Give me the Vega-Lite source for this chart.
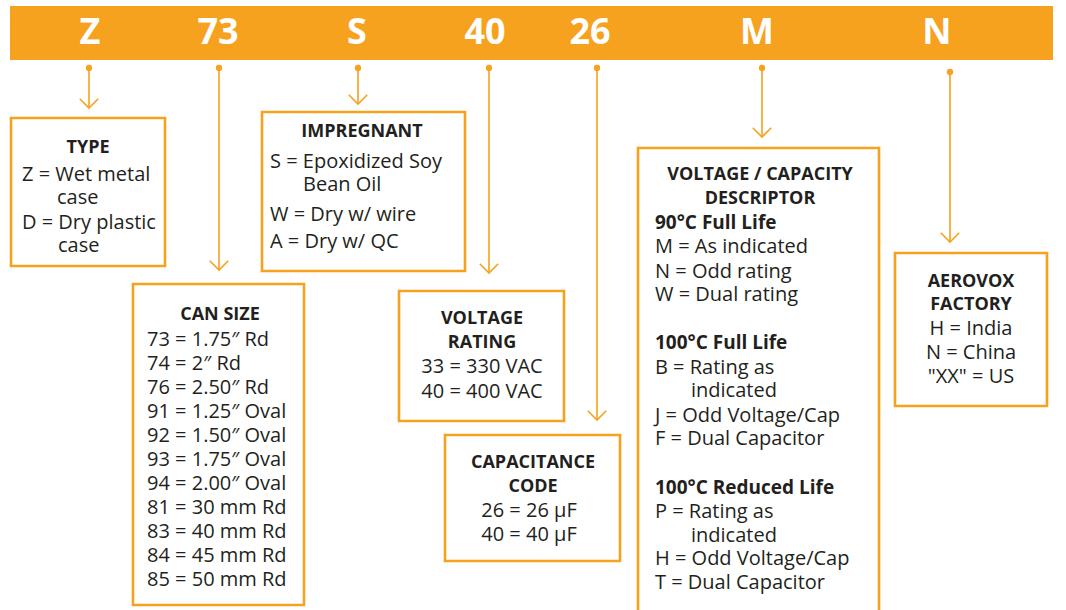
{
  "$schema": "https://vega.github.io/schema/vega-lite/v6.json",
  "width": 1066,
  "height": 610,
  "padding": 0,
  "autosize": {"type": "fit", "contains": "padding"},
  "background": "white",
  "config": {"view": {"stroke": null}, "text": {"font": "Open Sans", "color": "#231F20"}},
  "datasets": {
    "banner": [{"x1": 10, "x2": 1053, "y1": 6, "y2": 60}],
    "codes": [
      {"text": "Z", "x": 90, "y": 33},
      {"text": "73", "x": 218, "y": 33},
      {"text": "S", "x": 357, "y": 33},
      {"text": "40", "x": 485, "y": 33},
      {"text": "26", "x": 590, "y": 33},
      {"text": "M", "x": 757, "y": 33},
      {"text": "N", "x": 937, "y": 33}
    ],
    "links": [
      {"field": "Type", "x": 89, "y1": 68, "y2": 108},
      {"field": "Can size", "x": 219, "y1": 68, "y2": 270},
      {"field": "Impregnant", "x": 358, "y1": 68, "y2": 104},
      {"field": "Voltage", "x": 489, "y1": 68, "y2": 273},
      {"field": "Capacitance", "x": 597, "y1": 68, "y2": 420},
      {"field": "Descriptor", "x": 762, "y1": 68, "y2": 137},
      {"field": "Factory", "x": 950, "y1": 72, "y2": 242}
    ],
    "boxes": [
      {"box": "TYPE", "x1": 11, "x2": 165, "y1": 118, "y2": 266},
      {"box": "IMPREGNANT", "x1": 262, "x2": 465, "y1": 112, "y2": 271},
      {"box": "CAN SIZE", "x1": 133, "x2": 304, "y1": 284, "y2": 605},
      {"box": "VOLTAGE RATING", "x1": 399, "x2": 564, "y1": 291, "y2": 421},
      {"box": "CAPACITANCE CODE", "x1": 445, "x2": 620, "y1": 435, "y2": 561},
      {"box": "VOLTAGE / CAPACITY DESCRIPTOR", "x1": 638, "x2": 879, "y1": 148, "y2": 640},
      {"box": "AEROVOX FACTORY", "x1": 895, "x2": 1047, "y1": 253, "y2": 406}
    ],
    "texts": [
      {"role": "title", "text": "TYPE", "x": 88, "y": 148},
      {"role": "left", "text": "Z = Wet metal", "x": 22, "y": 175},
      {"role": "left", "text": "case", "x": 57, "y": 198},
      {"role": "left", "text": "D = Dry plastic", "x": 22, "y": 223},
      {"role": "left", "text": "case", "x": 58, "y": 246},

      {"role": "title", "text": "IMPREGNANT", "x": 362, "y": 132},
      {"role": "left", "text": "S = Epoxidized Soy", "x": 270, "y": 162},
      {"role": "left", "text": "Bean Oil", "x": 303, "y": 185},
      {"role": "left", "text": "W = Dry w/ wire", "x": 270, "y": 215},
      {"role": "left", "text": "A = Dry w/ QC", "x": 270, "y": 242},

      {"role": "title", "text": "CAN SIZE", "x": 220, "y": 315},
      {"role": "left", "text": "73 = 1.75″ Rd", "x": 147, "y": 340},
      {"role": "left", "text": "74 = 2″ Rd", "x": 147, "y": 364},
      {"role": "left", "text": "76 = 2.50″ Rd", "x": 147, "y": 388},
      {"role": "left", "text": "91 = 1.25″ Oval", "x": 147, "y": 412},
      {"role": "left", "text": "92 = 1.50″ Oval", "x": 147, "y": 436},
      {"role": "left", "text": "93 = 1.75″ Oval", "x": 147, "y": 460},
      {"role": "left", "text": "94 = 2.00″ Oval", "x": 147, "y": 484},
      {"role": "left", "text": "81 = 30 mm Rd", "x": 147, "y": 508},
      {"role": "left", "text": "83 = 40 mm Rd", "x": 147, "y": 532},
      {"role": "left", "text": "84 = 45 mm Rd", "x": 147, "y": 556},
      {"role": "left", "text": "85 = 50 mm Rd", "x": 147, "y": 580},

      {"role": "title", "text": "VOLTAGE", "x": 482, "y": 319},
      {"role": "title", "text": "RATING", "x": 482, "y": 343},
      {"role": "center", "text": "33 = 330 VAC", "x": 482, "y": 367},
      {"role": "center", "text": "40 = 400 VAC", "x": 482, "y": 392},

      {"role": "title", "text": "CAPACITANCE", "x": 533, "y": 463},
      {"role": "title", "text": "CODE", "x": 533, "y": 487},
      {"role": "center", "text": "26 = 26 µF", "x": 529, "y": 511},
      {"role": "center", "text": "40 = 40 µF", "x": 529, "y": 535},

      {"role": "title", "text": "VOLTAGE / CAPACITY", "x": 760, "y": 175},
      {"role": "title", "text": "DESCRIPTOR", "x": 760, "y": 199},
      {"role": "subhead", "text": "90°C Full Life", "x": 655, "y": 223},
      {"role": "left", "text": "M = As indicated", "x": 655, "y": 247},
      {"role": "left", "text": "N = Odd rating", "x": 655, "y": 272},
      {"role": "left", "text": "W = Dual rating", "x": 655, "y": 295},
      {"role": "subhead", "text": "100°C Full Life", "x": 655, "y": 343},
      {"role": "left", "text": "B = Rating as", "x": 655, "y": 368},
      {"role": "left", "text": "indicated", "x": 691, "y": 391},
      {"role": "left", "text": "J = Odd Voltage/Cap", "x": 655, "y": 416},
      {"role": "left", "text": "F = Dual Capacitor", "x": 655, "y": 439},
      {"role": "subhead", "text": "100°C Reduced Life", "x": 655, "y": 488},
      {"role": "left", "text": "P = Rating as", "x": 655, "y": 512},
      {"role": "left", "text": "indicated", "x": 691, "y": 536},
      {"role": "left", "text": "H = Odd Voltage/Cap", "x": 655, "y": 559},
      {"role": "left", "text": "T = Dual Capacitor", "x": 655, "y": 583},

      {"role": "title", "text": "AEROVOX", "x": 971, "y": 282},
      {"role": "title", "text": "FACTORY", "x": 971, "y": 305},
      {"role": "center", "text": "H = India", "x": 971, "y": 329},
      {"role": "center", "text": "N = China", "x": 971, "y": 353},
      {"role": "center", "text": "\"XX\" = US", "x": 971, "y": 377}
    ]
  },
  "layer": [
    {
      "data": {"name": "banner"},
      "mark": {"type": "rect", "color": "#F6A21E"},
      "encoding": {
        "x": {"field": "x1", "type": "quantitative", "scale": {"domain": [0, 1066], "nice": false, "zero": false}, "axis": null},
        "x2": {"field": "x2"},
        "y": {"field": "y1", "type": "quantitative", "scale": {"domain": [0, 610], "nice": false, "zero": false, "reverse": true}, "axis": null},
        "y2": {"field": "y2"}
      }
    },
    {
      "data": {"name": "codes"},
      "mark": {"type": "text", "color": "white", "fontWeight": "bold", "fontSize": 36, "align": "center", "baseline": "middle", "font": "Open Sans"},
      "encoding": {
        "x": {"field": "x", "type": "quantitative"},
        "y": {"field": "y", "type": "quantitative"},
        "text": {"field": "text"}
      }
    },
    {
      "data": {"name": "links"},
      "mark": {"type": "rule", "color": "#F6A21E", "strokeWidth": 1.6},
      "encoding": {
        "x": {"field": "x", "type": "quantitative"},
        "y": {"field": "y1", "type": "quantitative"},
        "y2": {"field": "y2"}
      }
    },
    {
      "data": {"name": "links"},
      "mark": {"type": "point", "shape": "circle", "filled": true, "size": 40, "color": "#F6A21E", "opacity": 1},
      "encoding": {
        "x": {"field": "x", "type": "quantitative"},
        "y": {"field": "y1", "type": "quantitative"}
      }
    },
    {
      "data": {"name": "links"},
      "mark": {"type": "point", "shape": "M-1,-1L0,0L1,-1", "filled": false, "size": 340, "color": "#F6A21E", "strokeWidth": 1.6, "opacity": 1},
      "encoding": {
        "x": {"field": "x", "type": "quantitative"},
        "y": {"field": "y2", "type": "quantitative"}
      }
    },
    {
      "data": {"name": "boxes"},
      "mark": {"type": "rect", "fill": "white", "stroke": "#F6A21E", "strokeWidth": 2.6, "clip": true},
      "encoding": {
        "x": {"field": "x1", "type": "quantitative"},
        "x2": {"field": "x2"},
        "y": {"field": "y1", "type": "quantitative"},
        "y2": {"field": "y2"}
      }
    },
    {
      "data": {"name": "texts"},
      "transform": [{"filter": "datum.role === 'title'"}],
      "mark": {"type": "text", "fontWeight": "bold", "fontSize": 18, "align": "center", "baseline": "middle", "font": "Open Sans", "color": "#231F20"},
      "encoding": {
        "x": {"field": "x", "type": "quantitative"},
        "y": {"field": "y", "type": "quantitative"},
        "text": {"field": "text"}
      }
    },
    {
      "data": {"name": "texts"},
      "transform": [{"filter": "datum.role === 'subhead'"}],
      "mark": {"type": "text", "fontWeight": "bold", "fontSize": 19, "align": "left", "baseline": "middle", "font": "Open Sans", "color": "#231F20"},
      "encoding": {
        "x": {"field": "x", "type": "quantitative"},
        "y": {"field": "y", "type": "quantitative"},
        "text": {"field": "text"}
      }
    },
    {
      "data": {"name": "texts"},
      "transform": [{"filter": "datum.role === 'left'"}],
      "mark": {"type": "text", "fontSize": 20, "align": "left", "baseline": "middle", "font": "Open Sans", "color": "#231F20"},
      "encoding": {
        "x": {"field": "x", "type": "quantitative"},
        "y": {"field": "y", "type": "quantitative"},
        "text": {"field": "text"}
      }
    },
    {
      "data": {"name": "texts"},
      "transform": [{"filter": "datum.role === 'center'"}],
      "mark": {"type": "text", "fontSize": 20, "align": "center", "baseline": "middle", "font": "Open Sans", "color": "#231F20"},
      "encoding": {
        "x": {"field": "x", "type": "quantitative"},
        "y": {"field": "y", "type": "quantitative"},
        "text": {"field": "text"}
      }
    }
  ]
}
